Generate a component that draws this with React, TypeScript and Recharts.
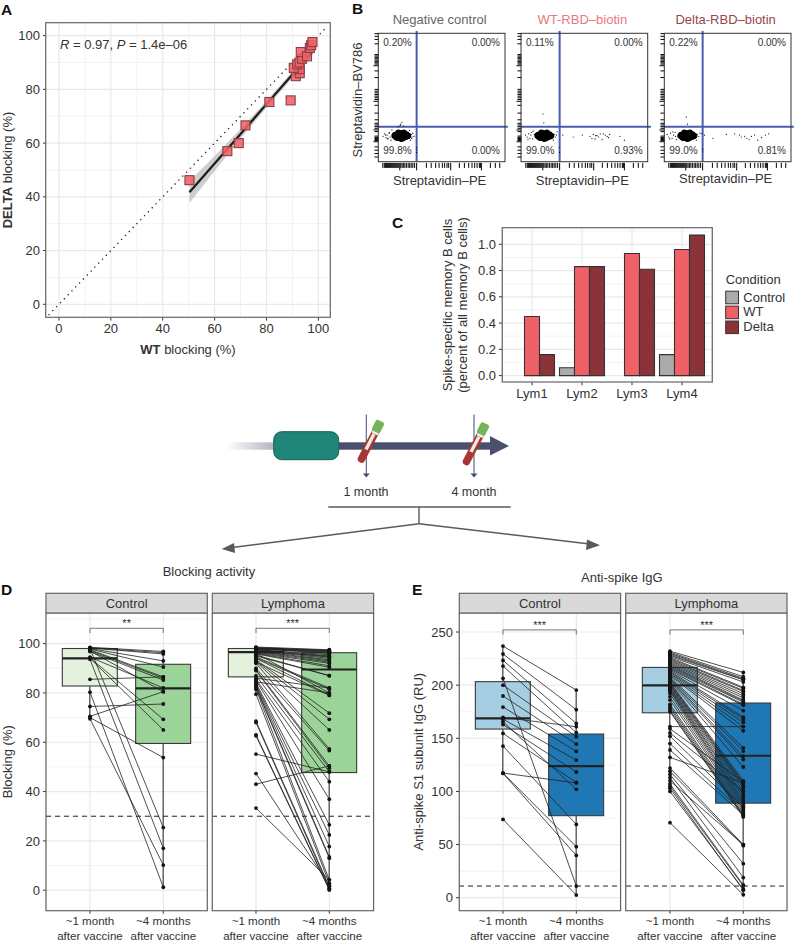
import React from 'react';
import {
  ComposedChart, BarChart, ScatterChart, Scatter, Bar, Line, Area, XAxis, YAxis,
  CartesianGrid, ReferenceLine,
} from 'recharts';

// ---------- Panel A ----------
const wtBlocking = [50.3, 64.9, 69.3, 71.9, 81.1, 89.3, 91.3, 92.8, 92.8, 90.5, 91.8, 92.7, 93.7, 93.2, 95.6, 96.7, 97.2, 97.7];
const deltaBlocking = [46.2, 57, 60, 66.6, 75.3, 75.9, 84.9, 86, 87.5, 88, 89.3, 90, 91.4, 93.9, 92.3, 95.4, 96.4, 97.6];
const fitX = [50.3, 60, 70, 80, 90, 97.7];
const fitY = [41.7, 52.4, 63.4, 74.5, 85.5, 94];
const fitLow = [37.7, 49.6, 61.7, 73.2, 84.3, 92.5];
const fitHigh = [45.8, 55.2, 65.2, 75.8, 86.7, 95.5];
const diagEnds = [-4, 103.5];
const aMajor = [0, 20, 40, 60, 80, 100];
const aMinor = [10, 30, 50, 70, 90];

// ---------- Panel B ----------
const coreX = [128, 140, 150, 160, 170, 180, 190, 200, 210, 220, 230, 240, 135, 155, 175, 195, 215, 235, 150, 170, 190, 210, 225, 160, 185, 205];
const coreY = [200, 190, 212, 185, 222, 178, 220, 180, 215, 190, 205, 200, 208, 200, 200, 200, 200, 195, 182, 190, 210, 190, 212, 225, 174, 226];
const negScatterX = [40, 52, 63, 72, 80, 88, 95, 103, 60, 74, 90, 110, 262, 270, 275, 255, 248, 285, 265, 180, 190, 175, 160, 200, 305, 305, 305];
const negScatterY = [195, 215, 185, 205, 180, 220, 190, 165, 205, 175, 225, 245, 210, 190, 220, 165, 240, 195, 180, 290, 305, 280, 270, 275, 70, 90, 110];
const wtScatterX = [35, 48, 60, 70, 82, 92, 105, 55, 78, 95, 262, 272, 280, 255, 285, 330, 412, 484, 545, 560, 571, 585, 600, 612, 625, 640, 665, 680, 690, 781, 816, 174, 180, 305, 305, 590, 650, 700];
const wtScatterY = [205, 190, 215, 180, 225, 175, 210, 170, 205, 235, 210, 190, 205, 165, 230, 205, 190, 205, 195, 180, 210, 175, 200, 190, 215, 170, 205, 195, 185, 195, 165, 369, 300, 70, 110, 200, 215, 210];
const deltaScatterX = [25, 38, 52, 64, 75, 88, 100, 45, 70, 92, 262, 275, 285, 255, 300, 320, 387, 492, 557, 597, 610, 637, 655, 672, 690, 715, 740, 770, 800, 826, 176, 185, 305, 305];
const deltaScatterY = [210, 190, 220, 180, 205, 225, 170, 175, 230, 195, 210, 195, 220, 165, 215, 205, 180, 210, 215, 205, 190, 195, 180, 170, 195, 205, 165, 185, 205, 215, 345, 290, 75, 95];
const flowXTicks = [38, 50, 60, 68, 76, 84, 92, 100, 108, 116, 124, 132, 140, 148, 156, 164, 172, 180, 190, 200, 212, 224, 238, 250, 262, 275, 289, 305, 382, 420, 455, 482, 508, 526, 545, 558, 574, 642, 682, 716, 742, 763, 782, 800, 808, 816, 887, 926, 961];
const flowXMajor = [172, 305, 574, 816];
const flowYTicks = [995, 974, 950, 916, 832, 821, 811, 800, 789, 779, 768, 758, 745, 705, 653, 561, 547, 534, 521, 508, 495, 482, 468, 437, 376, 324, 297, 284, 271, 258, 245, 232, 197, 187, 179, 171, 163, 153, 113, 87, 61, 34];
const flowYMajor = [745, 468, 245, 153];
const gateX = 305;
const gateY = 270;

// ---------- Panel C ----------
const lymCats = ['Lym1', 'Lym2', 'Lym3', 'Lym4'];
const controlShare = [0, 0.06, 0, 0.16];
const wtShare = [0.45, 0.83, 0.93, 0.96];
const deltaShare = [0.16, 0.83, 0.81, 1.07];
const cMajor = [0, 0.2, 0.4, 0.6, 0.8, 1.0];
const cMinor = [0.1, 0.3, 0.5, 0.7, 0.9, 1.1];

// ---------- Panels D, E ----------
const timeCats = ['~1 month', '~4 months'];
const dControl1 = [98.5, 98.3, 98.2, 98, 97.8, 97.5, 97.2, 96.8, 94.5, 94.2, 94, 93.6, 98, 97, 85.5, 80.3, 74.5, 70.5, 70, 69.5];
const dControl4 = [96.8, 96.3, 95.8, 93, 90.5, 86.5, 86, 85.2, 82, 69.3, 65, 17, 25.4, 80.5, 86.5, 1.2, 75.5, 80.5, 53.8, 10.2];
const dLymph1 = [98.6, 98.4, 98.2, 98.1, 98, 97.9, 97.8, 97.6, 97.4, 97.2, 97, 96.8, 96.5, 96.2, 96, 95.8, 95.3, 95, 94.6, 94.2, 94, 93.5, 93, 92.6, 92, 90, 89.4, 89, 87, 85.5, 85, 84, 83.5, 83, 82.5, 82, 81.5, 79.5, 68.5, 68, 63, 62.6, 55.2, 47.3, 43, 33.3, 98, 97.5, 97, 96, 92.5, 86, 84.5];
const dLymph4 = [97.5, 97.3, 97.2, 97, 96.8, 96.6, 96.4, 95, 94.5, 94, 93.4, 93, 92.5, 92, 91, 90.4, 87, 87, 82, 81.5, 79.2, 71.8, 69.3, 65, 57.3, 56.6, 50.4, 49.5, 48, 44, 36.9, 26.5, 22.4, 17.7, 13.5, 13, 4.2, 2.8, 1.5, 0.8, 0.3, 0.1, 48, 2, 50.4, 4.2, 96, 95.5, 94.8, 80, 79, 82, 80];
const eControl1 = [236.8, 229.3, 223.3, 218, 206.4, 200, 189.8, 179.4, 169.7, 168, 165.6, 163, 154.6, 142.7, 117.3, 117.3, 117, 73.7];
const eControl4 = [195.4, 176.9, 164, 155.3, 11, 151.5, 144.6, 137.7, 160.9, 129.5, 102, 118.3, 108.5, 69, 108, 48, 39.8, 2.5];
const eLymph1 = [232, 231, 230, 229, 228, 227, 226, 225, 224, 223, 222, 221, 220, 219, 218, 217, 216, 215, 214, 213, 212, 211, 210, 209, 208, 207, 206, 205, 204, 203, 202, 201, 200, 199, 198, 197, 196, 195, 194, 192, 189, 186, 182, 180, 178, 176, 175, 161, 159, 155, 152, 145, 139, 132, 122, 119, 116, 113, 110, 107, 105, 103, 100, 70.6];
const eLymph4 = [212, 208, 206.5, 205.5, 205, 203, 198, 197, 195, 194, 192, 190, 188, 186, 185, 184, 182, 181, 176, 170, 168, 165, 161, 157, 141, 138, 133, 130, 123, 110, 108, 107, 105, 103, 100, 97, 95, 92, 90, 88, 86, 84, 82, 80, 78, 77, 76, 161, 109, 100, 85, 80, 78, 108, 50, 49, 32, 19, 50, 12, 11, 7, 8, 2.8];
// [lower whisker, q1, median, q3, upper whisker]
const dControlBox1 = [69.5, 82.8, 94, 98, 98.5];
const dControlBox4 = [1.2, 59.5, 81.8, 91.6, 97];
const dLymphBox1 = [79.5, 86.5, 96.5, 98, 98.6];
const dLymphBox4 = [0.1, 47.7, 89.5, 96.3, 97.5];
const eControlBox1 = [117, 158.7, 168.8, 203.3, 236.8];
const eControlBox4 = [2.5, 77.2, 123.9, 154, 195.4];
const eLymphBox1 = [100, 174, 199.8, 216.7, 232];
const eLymphBox4 = [2.8, 89, 133.6, 183.2, 212];
const dMajor = [0, 20, 40, 60, 80, 100];
const dMinor = [10, 30, 50, 70, 90, 110];
const eMajor = [0, 50, 100, 150, 200, 250];
const eMinor = [25, 75, 125, 175, 225];

// ---------- styles ----------
const FONT = '"Liberation Sans", Arial, sans-serif';
const INK = '#333333';
const FRAME = '#666666';
const MAJOR = '#e9e9e9';
const MINOR = '#f3f3f3';
const RED = '#EF6167';
const MAROON = '#8A343A';
const GREY = '#ABABAB';

type R = { x: number; y: number; w: number; h: number };
const rectA: R = { x: 45.7, y: 22.7, w: 284.6, h: 294.6 };
const rectsB: R[] = [
  { x: 378.3, y: 33.3, w: 126.7, h: 128.4 },
  { x: 521, y: 33.3, w: 126.7, h: 128.4 },
  { x: 664.3, y: 33.3, w: 126.7, h: 128.4 },
];
const rectC: R = { x: 502.3, y: 227.7, w: 210, h: 154.3 };
const rectsD: R[] = [
  { x: 46, y: 613, w: 161.3, h: 297.7 },
  { x: 212.3, y: 613, w: 161.3, h: 297.7 },
];
const rectsE: R[] = [
  { x: 459.3, y: 613, w: 161.3, h: 297.7 },
  { x: 625.7, y: 613, w: 161.3, h: 297.7 },
];

const L = 45, T = 2, RR = 6, B = 40;
const Slot = ({ r, children }: { r: R; children: React.ReactNode }) => (
  <div style={{ position: 'absolute', left: r.x - L, top: r.y - T, width: r.w + L + RR, height: r.h + T + B }}>{children}</div>
);
const size = (r: R) => ({ width: r.w + L + RR, height: r.h + T + B });
const mg = { top: T, right: RR, left: 0, bottom: 0 };

const zip = (xs: number[], ys: number[]) => xs.map((x, i) => ({ x, y: ys[i] }));

// ---------- Panel A chart ----------
const PanelA = () => {
  const fit = fitX.map((x, i) => ({ x, fit: fitY[i], band: [fitLow[i], fitHigh[i]] }));
  const tick = { fontSize: 13, fill: INK, fontFamily: FONT };
  return (
    <Slot r={rectA}>
      <ComposedChart {...size(rectA)} margin={mg} data={fit}>
        <CartesianGrid stroke={MINOR} strokeWidth={1} horizontalValues={aMinor} verticalValues={aMinor} syncWithTicks={false} />
        <CartesianGrid stroke={MAJOR} strokeWidth={1.2} horizontalValues={aMajor} verticalValues={aMajor} syncWithTicks={false} />
        <XAxis dataKey="x" type="number" domain={[-5, 104.7]} ticks={aMajor} interval={0} height={B} tick={tick} tickSize={3} tickMargin={3} axisLine={false} tickLine={{ stroke: INK }} allowDataOverflow />
        <YAxis type="number" domain={[-4.95, 104.7]} ticks={aMajor} interval={0} width={L} tick={tick} tickSize={3} tickMargin={3} axisLine={false} tickLine={{ stroke: INK }} allowDataOverflow />
        <ReferenceLine segment={[{ x: diagEnds[0], y: diagEnds[0] }, { x: diagEnds[1], y: diagEnds[1] }]} stroke="#222" strokeWidth={1.3} strokeDasharray="1.3 4.2" ifOverflow="visible" />
        <Area dataKey="band" stroke="none" fill="#b9b9b9" fillOpacity={0.7} isAnimationActive={false} dot={false} activeDot={false} />
        <Line dataKey="fit" stroke="#1c1c1c" strokeWidth={2.2} dot={false} activeDot={false} isAnimationActive={false} />
        <Scatter
          data={zip(wtBlocking, deltaBlocking)}
          dataKey="y"
          isAnimationActive={false}
          shape={(p: any) => <rect x={p.cx - 4.5} y={p.cy - 4.5} width={9} height={9} fill={RED} fillOpacity={0.88} stroke="#8a3d40" strokeWidth={1.1} />}
        />
      </ComposedChart>
    </Slot>
  );
};

// ---------- Panel B chart ----------
const FlowXTick = (p: any) => {
  const long = flowXMajor.includes(p.payload.value);
  return <line x1={p.x} x2={p.x} y1={p.y + 1.5} y2={p.y + (long ? 9 : 6.5)} stroke="#000" strokeWidth={1} />;
};
const FlowYTick = (p: any) => {
  const long = flowYMajor.includes(p.payload.value);
  return <line x1={p.x + 0.5} x2={p.x - (long ? 4.5 : 3.5)} y1={p.y} y2={p.y} stroke="#000" strokeWidth={1} />;
};
const dot = (r: number, color = '#000') => (p: any) => <circle cx={p.cx} cy={p.cy} r={r} fill={color} />;

const FlowPlot = ({ r, xs, ys }: { r: R; xs: number[]; ys: number[] }) => (
  <Slot r={r}>
    <ScatterChart {...size(r)} margin={mg}>
      <XAxis dataKey="x" type="number" domain={[0, 1000]} ticks={flowXTicks} interval={0} height={B} tick={FlowXTick} tickSize={0} tickMargin={0} axisLine={false} tickLine={false} />
      <YAxis dataKey="y" type="number" domain={[0, 1000]} ticks={flowYTicks} interval={0} width={L} tick={FlowYTick} tickSize={0} tickMargin={0} axisLine={false} tickLine={false} />
      <Scatter data={zip(coreX, coreY)} isAnimationActive={false} shape={dot(2.9)} />
      <Scatter data={zip(xs, ys)} isAnimationActive={false} shape={dot(0.6)} />
      <ReferenceLine segment={[{ x: gateX, y: 0 }, { x: gateX, y: 1020 }]} stroke="#4a5cb0" strokeWidth={2} ifOverflow="visible" />
      <ReferenceLine segment={[{ x: 0, y: gateY }, { x: 1025, y: gateY }]} stroke="#4a5cb0" strokeWidth={2} ifOverflow="visible" />
    </ScatterChart>
  </Slot>
);

// ---------- Panel C chart ----------
const PanelC = () => {
  const data = lymCats.map((c, i) => ({ c, Control: controlShare[i], WT: wtShare[i], Delta: deltaShare[i] }));
  const tick = { fontSize: 13, fill: INK, fontFamily: FONT };
  const barStyle = { stroke: '#333', strokeWidth: 1.1, isAnimationActive: false };
  return (
    <Slot r={rectC}>
      <BarChart {...size(rectC)} margin={mg} data={data} barCategoryGap="5%" barGap={0}>
        <CartesianGrid stroke={MINOR} horizontalValues={cMinor} vertical={false} syncWithTicks={false} />
        <CartesianGrid stroke={MAJOR} strokeWidth={1.2} horizontalValues={cMajor} />
        <XAxis dataKey="c" scale="band" padding={{ left: 5, right: 5 }} height={B} tick={tick} tickSize={3} tickMargin={3} axisLine={false} tickLine={{ stroke: INK }} interval={0} />
        <YAxis type="number" domain={[-0.051, 1.124]} ticks={cMajor} interval={0} width={L} tick={tick} tickFormatter={(v: number) => v.toFixed(1)} tickSize={3} tickMargin={3} axisLine={false} tickLine={{ stroke: INK }} allowDataOverflow />
        <Bar dataKey="Control" fill={GREY} {...barStyle} />
        <Bar dataKey="WT" fill={RED} {...barStyle} />
        <Bar dataKey="Delta" fill={MAROON} {...barStyle} />
      </BarChart>
    </Slot>
  );
};

// ---------- Panels D, E ----------
const BoxShape = (p: any) => {
  const { x, y, width, height, payload } = p;
  const [lo, q1, med, q3, hi] = payload.box as number[];
  const k = height / (q3 - q1);
  const cx = x + width / 2;
  return (
    <g>
      <line x1={cx} x2={cx} y1={y - (hi - q3) * k} y2={y} stroke="#222" strokeWidth={1} />
      <line x1={cx} x2={cx} y1={y + height} y2={y + height + (q1 - lo) * k} stroke="#222" strokeWidth={1} />
      <rect x={x} y={y} width={width} height={height} fill={p.fill} stroke="#3a3a3a" strokeWidth={1.1} />
      <line x1={x} x2={x + width} y1={y + (q3 - med) * k} y2={y + (q3 - med) * k} stroke="#222" strokeWidth={2.2} />
    </g>
  );
};
const TimeTick = (p: any) => (
  <text x={p.x} y={p.y} textAnchor="middle" fontSize={11.6} fill={INK} fontFamily={FONT}>
    <tspan x={p.x} dy={9}>{p.payload.value}</tspan>
    <tspan x={p.x} dy={15}>after vaccine</tspan>
  </text>
);

type PairProps = {
  r: R; before: number[]; after: number[]; box1: number[]; box4: number[];
  fills: string[]; domain: number[]; major: number[]; minor: number[];
  cut: number; stars: string; bracket: number[]; showY: boolean;
};
const PairPanel = ({ r, before, after, box1, box4, fills, domain, major, minor, cut, stars, bracket, showY }: PairProps) => {
  const mk = (cat: string, box: number[], vals: number[], fill: string) => {
    const row: any = { cat, box, range: [box[1], box[3]], fill };
    vals.forEach((v, i) => { row['s' + i] = v; });
    return row;
  };
  const data = [mk(timeCats[0], box1, before, fills[0]), mk(timeCats[1], box4, after, fills[1])];
  const tick = { fontSize: 13, fill: INK, fontFamily: FONT };
  return (
    <Slot r={r}>
      <ComposedChart {...size(r)} margin={mg} data={data}>
        <CartesianGrid stroke={MINOR} horizontalValues={minor} vertical={false} syncWithTicks={false} />
        <CartesianGrid stroke={MAJOR} strokeWidth={1.2} horizontalValues={major} />
        <XAxis dataKey="cat" scale="band" padding={{ left: 7.33, right: 7.33 }} height={B} tick={TimeTick} tickSize={3} tickMargin={2} axisLine={false} tickLine={{ stroke: INK }} interval={0} />
        <YAxis type="number" domain={domain} ticks={major} interval={0} width={L} tick={showY ? tick : false} tickSize={showY ? 3 : 0} tickMargin={3} axisLine={false} tickLine={showY ? { stroke: INK } : false} allowDataOverflow />
        <Bar
          dataKey="range"
          barSize={55}
          isAnimationActive={false}
          shape={(p: any) => <BoxShape {...p} fill={p.payload.fill} />}
        />
        {before.map((_, i) => (
          <Line key={i} dataKey={'s' + i} stroke="#222" strokeWidth={0.8} isAnimationActive={false} activeDot={false} dot={{ r: 1.9, fill: '#141414', stroke: 'none' }} />
        ))}
        <ReferenceLine y={cut} stroke="#222" strokeWidth={1} strokeDasharray="5 4" />
        <ReferenceLine
          segment={[{ x: timeCats[0], y: bracket[1] }, { x: timeCats[1], y: bracket[1] }]}
          stroke="#555" strokeWidth={0.8}
          label={{ value: stars, position: 'top', fontSize: 11, fill: INK, fontFamily: FONT, offset: 1 }}
        />
        <ReferenceLine segment={[{ x: timeCats[0], y: bracket[0] }, { x: timeCats[0], y: bracket[1] }]} stroke="#555" strokeWidth={0.8} />
        <ReferenceLine segment={[{ x: timeCats[1], y: bracket[0] }, { x: timeCats[1], y: bracket[1] }]} stroke="#555" strokeWidth={0.8} />
      </ComposedChart>
    </Slot>
  );
};

// ---------- overlay ----------
const txt = { fontFamily: FONT, fill: INK, fontSize: 13 } as const;
const Letter = ({ x, y, c }: { x: number; y: number; c: string }) => (
  <text x={x} y={y} fontFamily={FONT} fontWeight={700} fontSize={15.5} fill="#111">{c}</text>
);
const Vert = ({ x, y, children, anchor = 'middle', size: s = 13 }: any) => (
  <text transform={`translate(${x},${y}) rotate(-90)`} textAnchor={anchor} {...txt} fontSize={s}>{children}</text>
);
const Frame = ({ r }: { r: R }) => <rect x={r.x} y={r.y} width={r.w} height={r.h} fill="none" stroke={FRAME} strokeWidth={1.2} />;
const Strip = ({ r, label }: { r: R; label: string }) => (
  <g>
    <rect x={r.x} y={593.3} width={r.w} height={19.7} fill="#d9d9d9" stroke={FRAME} strokeWidth={1.2} />
    <text x={r.x + r.w / 2} y={607.8} textAnchor="middle" {...txt}>{label}</text>
  </g>
);
const flowPct: string[][] = [
  ['0.20%', '0.00%', '99.8%', '0.00%'],
  ['0.11%', '0.00%', '99.0%', '0.93%'],
  ['0.22%', '0.00%', '99.0%', '0.81%'],
];
const flowTitles = ['Negative control', 'WT-RBD\u2013biotin', 'Delta-RBD\u2013biotin'];
const flowColors = ['#666666', '#E8797C', '#9A4448'];
const legendItems = ['Control', 'WT', 'Delta'];
const legendFills = [GREY, RED, MAROON];

const Tube = ({ dx, dy }: { dx: number; dy: number }) => (
  <g transform={`translate(${dx},${dy})`}>
    <line x1={375} y1={433} x2={361.5} y2={459} stroke="#a93636" strokeWidth={7.5} strokeLinecap="round" />
    <line x1={374} y1={434} x2={366} y2={449.5} stroke="#efe9df" strokeWidth={3.4} />
    <line x1={374.6} y1={434} x2={377} y2={429} stroke="#f3f3f3" strokeWidth={6.5} />
    <rect x={-4.6} y={-6} width={9.2} height={12} rx={2} fill="#74b45a" transform="translate(378,426.5) rotate(27)" />
  </g>
);

const Overlay = () => (
  <svg width={795} height={945} style={{ position: 'absolute', left: 0, top: 0, pointerEvents: 'none' }}>
    <defs>
      <linearGradient id="fade" x1="0" x2="1" y1="0" y2="0">
        <stop offset="0" stopColor="#ffffff" />
        <stop offset="1" stopColor="#b3b4c0" />
      </linearGradient>
    </defs>
    <Letter x={1} y={14.5} c="A" />
    <Letter x={352} y={14} c="B" />
    <Letter x={392} y={228} c="C" />
    <Letter x={1} y={595} c="D" />
    <Letter x={412} y={595} c="E" />

    {/* A */}
    <Frame r={rectA} />
    <text x={60} y={49} {...txt}>
      <tspan fontStyle="italic">R</tspan> = 0.97, <tspan fontStyle="italic">P</tspan> = 1.4e{'\u2013'}06
    </text>
    <text x={188} y={354} textAnchor="middle" {...txt}><tspan fontWeight={700}>WT</tspan> blocking (%)</text>
    <Vert x={12} y={170}><tspan fontWeight={700}>DELTA</tspan> blocking (%)</Vert>

    {/* B */}
    {rectsB.map((r, i) => (
      <g key={i}>
        <rect x={r.x} y={r.y} width={r.w} height={r.h} fill="none" stroke="#333" strokeWidth={1} />
        <text x={r.x + r.w / 2 - 2} y={24} textAnchor="middle" {...txt} fill={flowColors[i]}>{flowTitles[i]}</text>
        <text x={r.x + r.w / 2 - 2} y={i === 2 ? 182.7 : 185} textAnchor="middle" {...txt}>Streptavidin{'\u2013'}PE</text>
        <text x={r.x + 5} y={45.7} {...txt} fontSize={10}>{flowPct[i][0]}</text>
        <text x={r.x + r.w - 5} y={45.7} textAnchor="end" {...txt} fontSize={10}>{flowPct[i][1]}</text>
        <text x={r.x + 5} y={154.3} {...txt} fontSize={10}>{flowPct[i][2]}</text>
        <text x={r.x + r.w - 5} y={154.3} textAnchor="end" {...txt} fontSize={10}>{flowPct[i][3]}</text>
      </g>
    ))}
    <Vert x={362} y={100}>Streptavidin{'\u2013'}BV786</Vert>

    {/* C */}
    <Frame r={rectC} />
    <Vert x={451.7} y={305}>Spike-specific memory B cells</Vert>
    <Vert x={466.7} y={305}>(percent of all memory B cells)</Vert>
    <text x={725.7} y={284.3} {...txt}>Condition</text>
    {legendItems.map((t, i) => (
      <g key={t}>
        <rect x={725.7} y={291.2 + i * 14.9} width={12.8} height={12.6} fill={legendFills[i]} stroke="#333" strokeWidth={1} />
        <text x={743.3} y={301.5 + i * 14.9} {...txt}>{t}</text>
      </g>
    ))}

    {/* schematic */}
    <rect x={226.7} y={442.3} width={47} height={7.4} fill="url(#fade)" />
    <rect x={339} y={442.3} width={152} height={7.4} fill="#4b4f6b" />
    <polygon points="490,436 509,446 490,455.5" fill="#4b4f6b" />
    <rect x={273.7} y={431.7} width={65} height={28} rx={8} fill="#1f8578" stroke="#155f57" strokeWidth={1} />
    {[366.3, 474].map((x) => (
      <g key={x}>
        <line x1={x} x2={x} y1={414.5} y2={475} stroke="#55597a" strokeWidth={1.1} />
        <polygon points={`${x - 3.5},473.5 ${x + 3.5},473.5 ${x},477.5`} fill="#4b4f6b" />
      </g>
    ))}
    <Tube dx={0} dy={0} />
    <Tube dx={105} dy={2.5} />
    <text x={366} y={496} textAnchor="middle" {...txt} fontSize={12.5}>1 month</text>
    <text x={474} y={496} textAnchor="middle" {...txt} fontSize={12.5}>4 month</text>
    <g stroke="#5a5a5a" strokeWidth={1.4} fill="none">
      <line x1={328.3} x2={510.7} y1={507} y2={507} />
      <line x1={419} x2={419} y1={507} y2={523.7} />
      <line x1={419} y1={523.7} x2={228} y2={548} />
      <line x1={419} y1={523.7} x2={594} y2={544.5} />
    </g>
    <polygon points="221.7,549 234,543 235,553" fill="#5a5a5a" />
    <polygon points="600,545.3 587,539.5 586,550" fill="#5a5a5a" />
    <text x={162.7} y={575.7} {...txt}>Blocking activity</text>
    <text x={581} y={581.5} {...txt}>Anti-spike IgG</text>

    {/* D, E */}
    {[...rectsD, ...rectsE].map((r, i) => (
      <g key={i}>
        <Frame r={r} />
        <Strip r={r} label={i % 2 === 0 ? 'Control' : 'Lymphoma'} />
      </g>
    ))}
    <Vert x={12} y={761.7}>Blocking (%)</Vert>
    <Vert x={423} y={761.7}>Anti-spike S1 subunit IgG (RU)</Vert>
  </svg>
);

export default function App() {
  const greens = ['#E4F1DD', '#9CD399'];
  const blues = ['#A6CEE3', '#1F78B4'];
  const dDomain = [-8.3, 112.4];
  const eDomain = [-12.2, 267.9];
  return (
    <div style={{ position: 'absolute', left: 0, top: 0, width: 795, height: 945, background: '#fff', overflow: 'hidden', fontFamily: FONT }}>
      <PanelA />
      <FlowPlot r={rectsB[0]} xs={negScatterX} ys={negScatterY} />
      <FlowPlot r={rectsB[1]} xs={wtScatterX} ys={wtScatterY} />
      <FlowPlot r={rectsB[2]} xs={deltaScatterX} ys={deltaScatterY} />
      <PanelC />
      <PairPanel r={rectsD[0]} before={dControl1} after={dControl4} box1={dControlBox1} box4={dControlBox4} fills={greens} domain={dDomain} major={dMajor} minor={dMinor} cut={30} stars="**" bracket={[104.3, 106.2]} showY />
      <PairPanel r={rectsD[1]} before={dLymph1} after={dLymph4} box1={dLymphBox1} box4={dLymphBox4} fills={greens} domain={dDomain} major={dMajor} minor={dMinor} cut={30} stars="***" bracket={[104.3, 106.2]} showY={false} />
      <PairPanel r={rectsE[0]} before={eControl1} after={eControl4} box1={eControlBox1} box4={eControlBox4} fills={blues} domain={eDomain} major={eMajor} minor={eMinor} cut={11} stars="***" bracket={[247.5, 252]} showY />
      <PairPanel r={rectsE[1]} before={eLymph1} after={eLymph4} box1={eLymphBox1} box4={eLymphBox4} fills={blues} domain={eDomain} major={eMajor} minor={eMinor} cut={11} stars="***" bracket={[247.5, 252]} showY={false} />
      <Overlay />
    </div>
  );
}
